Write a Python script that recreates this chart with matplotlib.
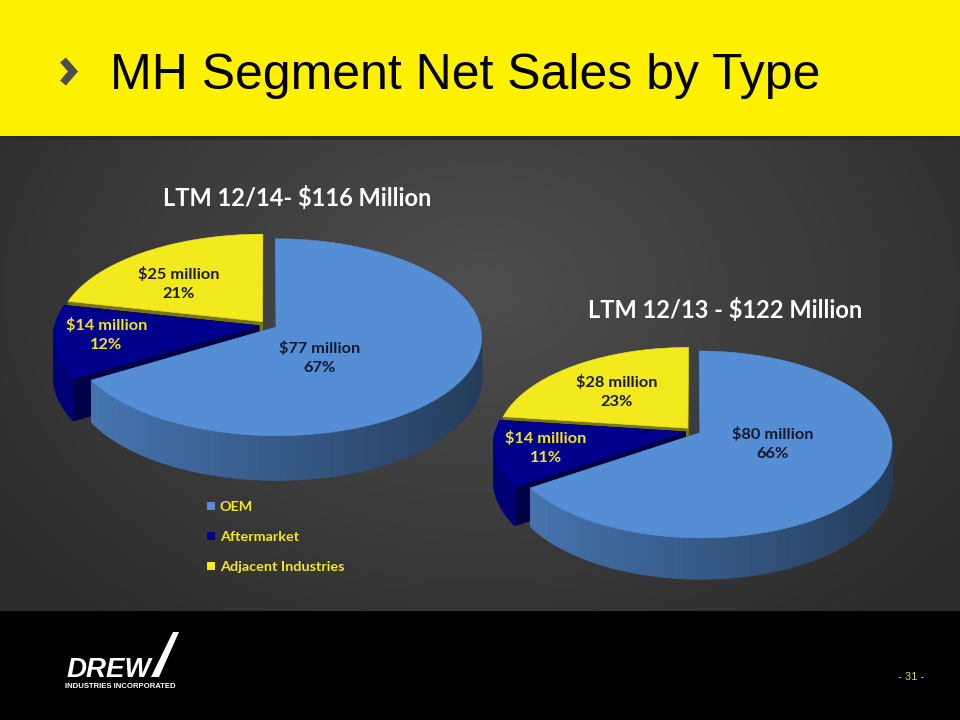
import numpy as np
import matplotlib
matplotlib.use("Agg")
import matplotlib.pyplot as plt
import matplotlib.colors as mcolors
from matplotlib.patches import Polygon, Rectangle, Patch
from matplotlib.collections import PolyCollection

# data
categories = ["OEM", "Aftermarket", "Adjacent Industries"]
sales_1214 = [77, 14, 25]
pct_1214 = ["67%", "12%", "21%"]
sales_1213 = [80, 14, 28]
pct_1213 = ["66%", "11%", "23%"]
titles = ["LTM 12/14- $116 Million", "LTM 12/13 - $122 Million"]

top_colors = ["#558ED5", "#00008C", "#F2EA1C"]
label_colors = ["#141a2e", "#F0E428", "#1c1c1c"]

# layout of the two fake-3D pies (pixels, y down)
pie_a = dict(cx=268, cy=325, rx=204, ry=97, k=0.102, H=40, e=0.045,
             title_xy=(297, 198),
             lab_uv=[(0.245, 0.33), (-0.784, 0.10), (-0.456, -0.443)])
pie_b = dict(cx=693, cy=431, rx=190, ry=91.5, k=0.125, H=36, e=0.041,
             title_xy=(725, 310),
             lab_uv=[(0.41, 0.14), (-0.758, 0.186), (-0.426, -0.448)])

LABEL_FONT = "Lato"


def proj(p, u, v, h=0.0):
    s = 1.0 / (1.0 - p["k"] * v)
    return p["cx"] + p["rx"] * u * s, p["cy"] + (p["ry"] * v + p["H"] * h) * s


def draw_pie(ax, p, values, pcts):
    vals = np.array(values, float)
    cum = np.concatenate([[0], np.cumsum(vals / vals.sum())])
    wedges = []
    for i in range(len(vals)):
        a0 = np.radians(90 - 360 * cum[i + 1])
        a1 = np.radians(90 - 360 * cum[i])
        am = 0.5 * (a0 + a1)
        du, dv = p["e"] * np.cos(am), -p["e"] * np.sin(am)
        wedges.append((dv, i, a0, a1, du))
    # back to front
    for dv, i, a0, a1, du in sorted(wedges):
        base = np.array(mcolors.to_rgb(top_colors[i]))
        # cut faces
        for ta in (a0, a1):
            uu, vv = du + np.cos(ta), dv - np.sin(ta)
            pts = [proj(p, du, dv), proj(p, uu, vv), proj(p, uu, vv, 1), proj(p, du, dv, 1)]
            ax.add_patch(Polygon(pts, closed=True, fc=base * 0.5, ec=base * 0.5, lw=0.6))
        # outer rim, front half only
        t = np.linspace(a0, a1, 300)
        quads, cols = [], []
        for j in range(len(t) - 1):
            tm = 0.5 * (t[j] + t[j + 1])
            if np.sin(tm) >= 0:
                continue
            u0, v0 = du + np.cos(t[j]), dv - np.sin(t[j])
            u1, v1 = du + np.cos(t[j + 1]), dv - np.sin(t[j + 1])
            quads.append([proj(p, u0, v0), proj(p, u1, v1), proj(p, u1, v1, 1), proj(p, u0, v0, 1)])
            f = 0.86 - 0.44 * (np.cos(tm) + 1) / 2
            cols.append(np.clip(base * f, 0, 1))
        if quads:
            ax.add_collection(PolyCollection(quads, facecolors=cols, edgecolors=cols, linewidths=0.6))
        # top face
        tt = np.linspace(a0, a1, 300)
        pts = [proj(p, du, dv)] + [proj(p, du + np.cos(x), dv - np.sin(x)) for x in tt]
        ax.add_patch(Polygon(pts, closed=True, fc=base, ec=base, lw=0.4))
        # label
        lu, lv = p["lab_uv"][i]
        lx, ly = proj(p, lu, lv)
        ax.text(lx, ly, f"${values[i]} million\n{pcts[i]}", ha="center", va="center",
                multialignment="center", fontsize=11.8, fontweight="bold",
                family=LABEL_FONT, color=label_colors[i], linespacing=1.45)


fig = plt.figure(figsize=(9.6, 7.2), dpi=100)
ax = fig.add_axes([0, 0, 1, 1])

# slide background
yy, xx = np.mgrid[140:612, 0:960]
d = np.clip(np.sqrt(((xx - 480) / 600.0) ** 2 + ((yy - 290) / 430.0) ** 2), 0, 1)
c0 = np.array([78, 78, 78]) / 255.0
c1 = np.array([44, 44, 44]) / 255.0
bg = c0 + (c1 - c0) * d[..., None]
ax.imshow(bg, extent=(0, 960, 612, 140), aspect="auto", zorder=0)
ax.add_patch(Rectangle((0, 0), 960, 137, fc="#FFF100", ec="none"))
ax.add_patch(Rectangle((0, 136), 960, 4, fc="#2b2b2b", ec="none"))
ax.add_patch(Rectangle((0, 611), 960, 110, fc="black", ec="none"))

# header
ax.plot([63, 73, 63], [60, 71.5, 83], color="#4d4d4d", lw=5.5, solid_joinstyle="miter",
        solid_capstyle="butt")
ax.text(110, 89, "MH Segment Net Sales by Type", fontsize=36, family="Liberation Sans",
        color="black", va="baseline", ha="left")

draw_pie(ax, pie_a, sales_1214, pct_1214)
draw_pie(ax, pie_b, sales_1213, pct_1213)

for p, ttl in zip([pie_a, pie_b], titles):
    ax.text(p["title_xy"][0], p["title_xy"][1], ttl, ha="center", va="center",
            fontsize=17, fontweight="bold", family=LABEL_FONT, color="white")

handles = [Patch(facecolor=c, edgecolor="none") for c in top_colors]
fig.legend(handles, categories, loc="upper left", bbox_to_anchor=(207 / 960, 1 - 501 / 720),
           frameon=False, borderpad=0, borderaxespad=0, handlelength=0.55, handleheight=0.55,
           handletextpad=0.35, labelspacing=1.25,
           prop=dict(family=LABEL_FONT, weight="bold", size=10.4), labelcolor="#F2E62A")

# footer
ax.text(67, 677, "DREW", fontsize=20, fontweight="bold", fontstyle="italic",
        family="Liberation Sans", color="white", va="baseline", ha="left")
ax.add_patch(Polygon([(151, 677), (159, 677), (179, 632), (173, 632)], closed=True,
                     fc="white", ec="none"))
ax.text(65, 686, "INDUSTRIES INCORPORATED", fontsize=5.6, fontweight="bold",
        family="Liberation Sans", color="white", va="center", ha="left")
ax.text(911, 677, "- 31 -", fontsize=8, family="Liberation Sans", color="#E2D45A",
        ha="center", va="center")

ax.set_xlim(0, 960)
ax.set_ylim(720, 0)
ax.axis("off")
fig.savefig("out.png", dpi=100)
